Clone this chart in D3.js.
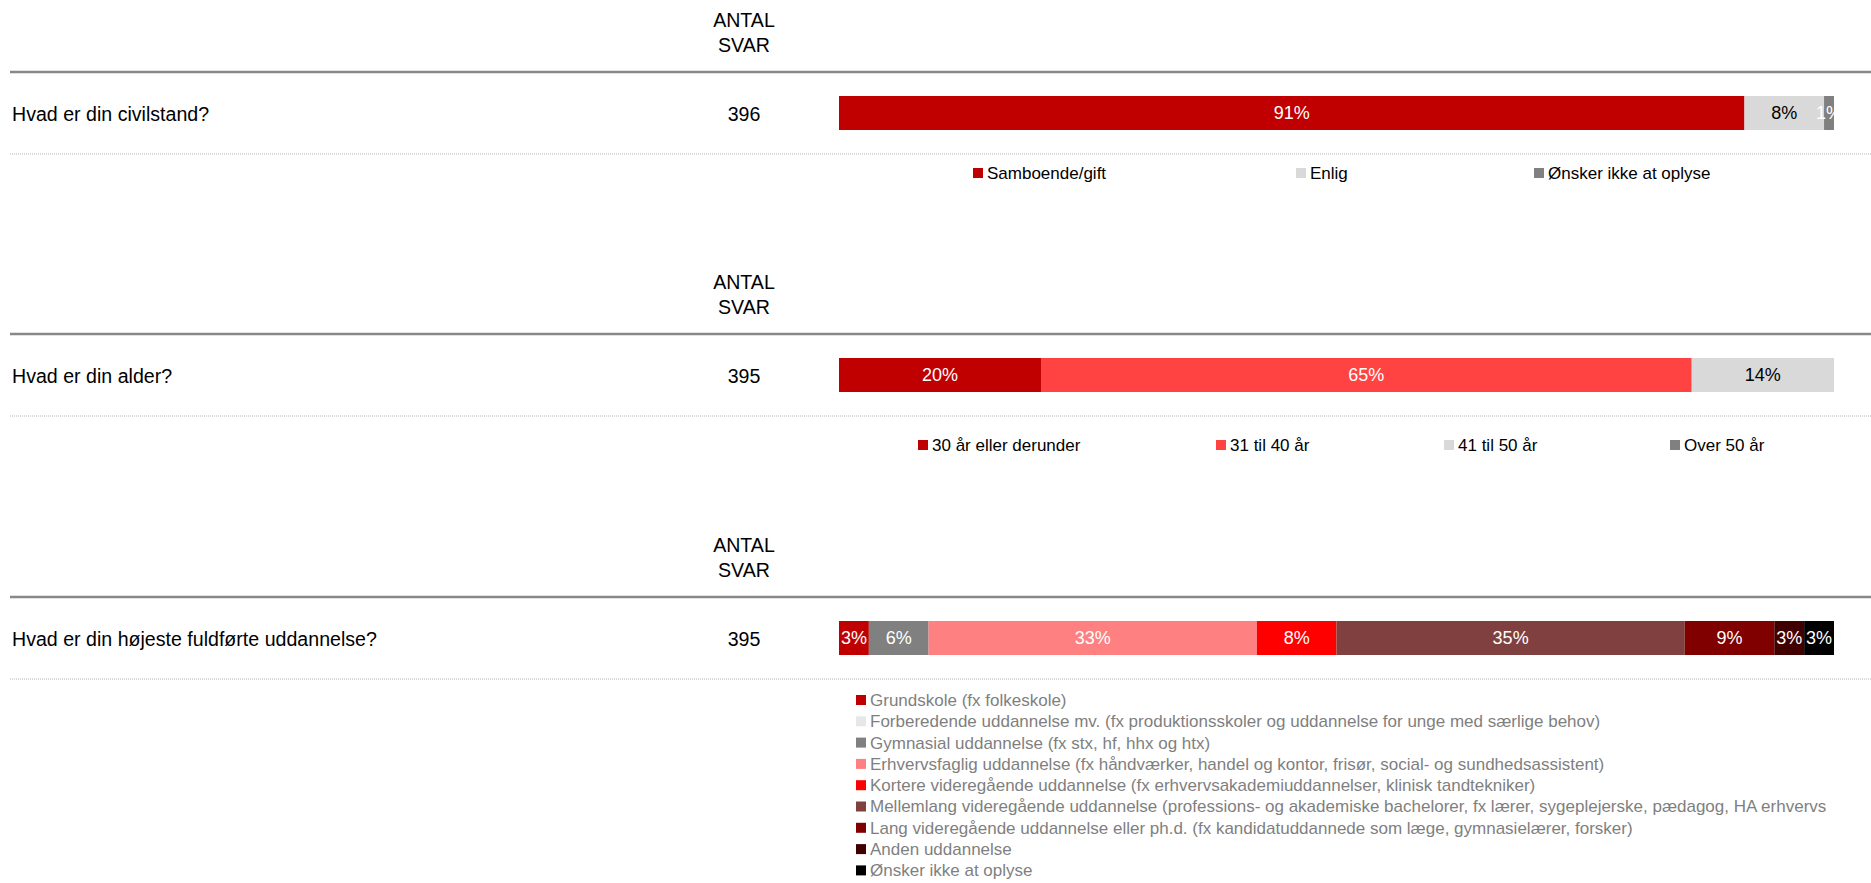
<!DOCTYPE html>
<html>
<head>
<meta charset="utf-8">
<script src="https://cdn.jsdelivr.net/npm/d3@7"></script>
<style>
  body { margin: 0; background: #fff; }
  svg { display: block; font-family: "Liberation Sans", Arial, sans-serif; }
  .q { font-size: 19.6px; fill: #000; }
  .pct { font-size: 18px; }
  .leg { font-size: 17px; }
</style>
</head>
<body>
<svg id="chart" width="1871" height="883"></svg>
<script>
"use strict"
/*
 * Stacked 100% bars for three survey questions, one block per question */

// Questions and number of answers
var questions = ["Hvad er din civilstand?", "Hvad er din alder?", "Hvad er din højeste fuldførte uddannelse?"],
    counts = [396, 395, 395];

// Civil status
var civilCats = ["Samboende/gift", "Enlig", "Ønsker ikke at oplyse"],
    civilValues = [0.91, 0.08, 0.01],
    civilColors = ["#C00000", "#D9D9D9", "#808080"];

// Age
var ageCats = ["30 år eller derunder", "31 til 40 år", "41 til 50 år", "Over 50 år"],
    ageValues = [0.203, 0.654, 0.143, 0],
    ageColors = ["#C00000", "#FF4343", "#D9D9D9", "#808080"];

// Education
var eduCats = [
      "Grundskole (fx folkeskole)",
      "Forberedende uddannelse mv. (fx produktionsskoler og uddannelse for unge med særlige behov)",
      "Gymnasial uddannelse (fx stx, hf, hhx og htx)",
      "Erhvervsfaglig uddannelse (fx håndværker, handel og kontor, frisør, social- og sundhedsassistent)",
      "Kortere videregående uddannelse (fx erhvervsakademiuddannelser, klinisk tandtekniker)",
      "Mellemlang videregående uddannelse (professions- og akademiske bachelorer, fx lærer, sygeplejerske, pædagog, HA erhvervs",
      "Lang videregående uddannelse eller ph.d. (fx kandidatuddannede som læge, gymnasielærer, forsker)",
      "Anden uddannelse",
      "Ønsker ikke at oplyse"],
    eduValues = [0.03, 0, 0.06, 0.33, 0.08, 0.35, 0.09, 0.03, 0.03],
    eduColors = ["#C00000", "#E7E7E9", "#808080", "#FF8080", "#FF0000", "#804040", "#800000", "#400000", "#000000"];

var svg = d3.select("svg#chart"),
    width = +svg.attr("width"),
    x = d3.scaleLinear().domain([0, 1]).range([839, 1834]),  // bar scale
    fmt = d3.format(".0%"),
    lineTops = [72, 334, 597];                                 // thick header line per block

var blocks = [
  { cats: civilCats, values: civilValues, colors: civilColors, legend: "row", legY: 173, legX: [973, 1296, 1534], legColor: "#000", step: 0 },
  { cats: ageCats, values: ageValues, colors: ageColors, legend: "row", legY: 445, legX: [918, 1216, 1444, 1670], legColor: "#000", step: 0 },
  { cats: eduCats, values: eduValues, colors: eduColors, legend: "col", legY: 700, legX: [856], legColor: "#7F7F7F", step: 21.3 }
];

// clip for the long vertical legend
svg.append("defs").append("clipPath").attr("id", "legclip")
  .append("rect").attr("x", 0).attr("y", 0).attr("width", 1826).attr("height", 883);

blocks.forEach(function(b, i) {
  var top = lineTops[i],
      g = svg.append("g");

  // header
  g.append("text").attr("class", "q").attr("x", 744).attr("y", top - 52)
    .attr("text-anchor", "middle").attr("dy", "0.35em").text("ANTAL");
  g.append("text").attr("class", "q").attr("x", 744).attr("y", top - 27)
    .attr("text-anchor", "middle").attr("dy", "0.35em").text("SVAR");

  g.append("line").attr("x1", 10).attr("x2", width).attr("y1", top).attr("y2", top)
    .attr("stroke", "#888").attr("stroke-width", 2.5);
  g.append("line").attr("x1", 10).attr("x2", width).attr("y1", top + 82).attr("y2", top + 82)
    .attr("stroke", "#B4B4B4").attr("stroke-width", 1).attr("stroke-dasharray", "1,1");

  g.append("text").attr("class", "q").attr("x", 12).attr("y", top + 42)
    .attr("dy", "0.35em").text(questions[i]);
  g.append("text").attr("class", "q").attr("x", 744).attr("y", top + 42)
    .attr("text-anchor", "middle").attr("dy", "0.35em").text(counts[i]);

  // stacked segments
  var cum = 0,
      segs = b.values.map(function(v, k) {
        var s = { v: v, x0: cum, x1: cum + v, c: b.colors[k] };
        cum += v;
        return s;
      });

  g.selectAll("rect.seg")
      .data(segs)
    .enter().append("rect")
      .attr("class", "seg")
      .attr("x", function(d) { return x(d.x0); })
      .attr("width", function(d) { return x(d.x1) - x(d.x0); })
      .attr("y", top + 24)
      .attr("height", 34)
      .attr("fill", function(d) { return d.c; });

  g.selectAll("text.pct")
      .data(segs.filter(function(d) { return d.v > 0; }))
    .enter().append("text")
      .attr("class", "pct")
      .attr("x", function(d) { return (x(d.x0) + x(d.x1)) / 2; })
      .attr("y", top + 41)
      .attr("dy", "0.35em")
      .attr("text-anchor", "middle")
      .attr("fill", function(d) { return d.c == "#D9D9D9" ? "#000" : "#fff"; })
      .text(function(d) { return fmt(d.v); });

  // legend
  var leg = g.append("g").attr("clip-path", "url(#legclip)")
    .selectAll("g")
      .data(b.cats)
    .enter().append("g")
      .attr("transform", function(d, k) {
        return b.legend == "row"
          ? "translate(" + b.legX[k] + "," + b.legY + ")"
          : "translate(" + b.legX[0] + "," + (b.legY + k * b.step) + ")";
      });

  leg.append("rect").attr("x", 0).attr("y", -5).attr("width", 10).attr("height", 10)
    .attr("fill", function(d, k) { return b.colors[k]; });
  leg.append("text").attr("class", "leg").attr("x", 14).attr("dy", "0.35em")
    .attr("fill", b.legColor).text(function(d) { return d; });
});
</script>
</body>
</html>
